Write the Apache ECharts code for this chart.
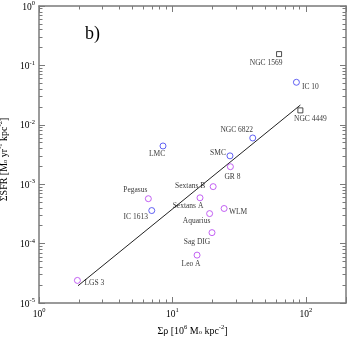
<!DOCTYPE html>
<html><head><meta charset="utf-8">
<script src="https://cdn.jsdelivr.net/npm/echarts@6/dist/echarts.min.js"></script>
<style>html,body{margin:0;padding:0;background:#fff}#c{width:349px;height:337px}</style>
</head><body><div id="c"></div>
<script>
// ---- data ----
const blueNames = ['IC 10', 'NGC 6822', 'LMC', 'SMC', 'IC 1613'];
const blueX = [85, 40, 8.5, 27, 7.0];
const blueY = [0.052, 0.006, 0.0044, 0.003, 0.00036];

const purpleNames = ['GR 8', 'Sextans B', 'Pegasus', 'Sextans A', 'WLM', 'Aquarius', 'Sag DIG', 'Leo A', 'LGS 3'];
const purpleX = [27.2, 20.2, 6.6, 16.1, 24.4, 19.0, 19.8, 15.3, 1.94];
const purpleY = [0.00197, 0.00091, 0.00057, 0.00059, 0.00039, 0.00032, 0.000153, 0.000064, 0.000024];

const squareNames = ['NGC 1569', 'NGC 4449'];
const squareX = [63, 91];
const squareY = [0.155, 0.0175];

const fitX = [1.96, 91];
const fitY = [1.95e-5, 0.0215];

// ---- label placement (style, not data) ----
const labelOffset = {
  'NGC 1569': [-13, 9], 'NGC 4449': [10, 9], 'IC 10': [14, 5],
  'NGC 6822': [-16, -8], 'LMC': [-6, 8], 'SMC': [-12, -3], 'IC 1613': [-16, 6],
  'GR 8': [2, 10], 'Sextans B': [-23, -1], 'Pegasus': [-13, -9], 'Sextans A': [-12, 8],
  'WLM': [14, 4], 'Aquarius': [-13, 7.5], 'Sag DIG': [-15, 9], 'Leo A': [-6, 9], 'LGS 3': [17, 3]
};

const FONT = 'Liberation Serif';
const BLUE = '#3c3cf0';
const PURPLE = '#b43cf0';
const FRAME = '#7a7a7a';

function pts(names, xs, ys) {
  return names.map((n, i) => ({
    name: n, value: [xs[i], ys[i]],
    label: { offset: labelOffset[n] }
  }));
}

const supRich = {
  b: { fontFamily: FONT, fontSize: 9.5, color: '#000', lineHeight: 12, verticalAlign: 'bottom' },
  s: { fontFamily: FONT, fontSize: 6.5, color: '#000', lineHeight: 12, verticalAlign: 'top' }
};
function powLabel(v) {
  const e = Math.log10(v);
  if (Math.abs(e - Math.round(e)) > 1e-6) return '';
  return '{b|10}{s|' + Math.round(e) + '}';
}

function axisCommon(showLabel) {
  return {
    type: 'log', logBase: 10,
    axisLine: { show: true, lineStyle: { color: FRAME, width: 1.5 } },
    axisTick: { show: true, inside: true, length: 6, lineStyle: { color: FRAME, width: 1 } },
    minorTick: { show: true, splitNumber: 9, length: 3.5, lineStyle: { color: FRAME, width: 1 } },
    splitLine: { show: false },
    minorSplitLine: { show: false },
    axisLabel: showLabel ? { show: true, formatter: powLabel, rich: supRich, fontFamily: FONT, fontSize: 9, color: '#000' } : { show: false }
  };
}

const nameRich = {
  n: { fontFamily: FONT, fontSize: 10, color: '#000', lineHeight: 12, verticalAlign: 'bottom' },
  sup: { fontFamily: FONT, fontSize: 6.5, color: '#000', lineHeight: 12, verticalAlign: 'top' },
  sub: { fontFamily: FONT, fontSize: 6.5, color: '#000', lineHeight: 10, verticalAlign: 'bottom' }
};

const chart = echarts.init(document.getElementById('c'), null, { renderer: 'canvas' });
const labelStyle = { show: true, position: 'inside', formatter: '{b}', fontFamily: FONT, fontSize: 7.5, color: '#000' };

chart.setOption({
  animation: false,
  backgroundColor: '#fff',
  grid: { left: 39, right: 3, top: 6, bottom: 34, containLabel: false, outerBoundsMode: 'none' },
  xAxis: [
    Object.assign(axisCommon(true), {
      min: 1, max: 200, position: 'bottom',
      axisLabel: { show: true, formatter: powLabel, rich: supRich, margin: 4, fontFamily: FONT, fontSize: 9, color: '#000' },
      name: '{n|Σρ [10}{sup|6}{n| M}{sub|o}{n| kpc}{sup|-2}{n|]}',
      nameLocation: 'middle', nameGap: 16,
      nameTextStyle: { rich: nameRich, fontFamily: FONT, fontSize: 10, color: '#000' }
    }),
    Object.assign(axisCommon(false), { min: 1, max: 200, position: 'top' })
  ],
  yAxis: [
    Object.assign(axisCommon(true), {
      min: 1e-5, max: 1, position: 'left',
      axisLabel: { show: true, formatter: powLabel, rich: supRich, margin: 4, fontFamily: FONT, fontSize: 9, color: '#000' },
      name: '{n|ΣSFR [M}{sub|o}{n| yr}{sup|-1}{n| kpc}{sup|-2}{n|]}',
      nameLocation: 'middle', nameGap: 25, nameRotate: 90,
      nameTextStyle: { rich: nameRich, fontFamily: FONT, fontSize: 10, color: '#000', padding: [0, 10, 0, 0] }
    }),
    Object.assign(axisCommon(false), { min: 1e-5, max: 1, position: 'right' })
  ],
  graphic: [
    { type: 'text', left: 85, top: 25, style: { text: 'b)', fontFamily: FONT, fontSize: 18, fill: '#000' } }
  ],
  series: [
    {
      type: 'line', data: fitX.map((x, i) => [x, fitY[i]]),
      symbol: 'none', lineStyle: { color: '#222', width: 1 }, z: 1
    },
    {
      type: 'scatter', data: pts(blueNames, blueX, blueY), symbol: 'circle', symbolSize: 6,
      itemStyle: { color: 'rgba(0,0,0,0)', borderColor: BLUE, borderWidth: 1 }, label: labelStyle
    },
    {
      type: 'scatter', data: pts(purpleNames, purpleX, purpleY), symbol: 'circle', symbolSize: 6,
      itemStyle: { color: 'rgba(0,0,0,0)', borderColor: PURPLE, borderWidth: 1 }, label: labelStyle
    },
    {
      type: 'scatter', data: pts(squareNames, squareX, squareY), symbol: 'rect', symbolSize: 5,
      itemStyle: { color: 'rgba(0,0,0,0)', borderColor: '#222', borderWidth: 1 }, label: labelStyle
    }
  ]
});
</script>
</body></html>
